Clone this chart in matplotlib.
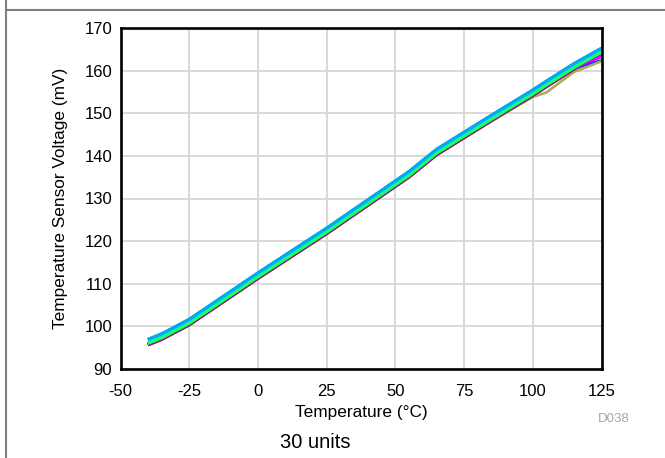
import numpy as np
import matplotlib
matplotlib.use("Agg")
import matplotlib.pyplot as plt
from matplotlib.lines import Line2D

plt.rcParams["font.family"] = ["Liberation Sans", "DejaVu Sans"]
plt.rcParams["axes.unicode_minus"] = False

# measurement temperatures (degC) and typical sensor voltage (mV)
temps = [-40, -35, -25, 0, 25, 55, 65, 85, 100, 105, 115, 125]
typical_mv = [96.3, 97.6, 101.0, 111.9, 122.4, 135.7, 140.9, 148.9, 154.8, 156.9, 161.0, 164.6]

# 30 units, in drawing order: offset from typical, colour, extra drop at 125 degC
unit_offsets = [-0.3, -0.35, -0.4, -0.45, -0.5, -0.3, -0.55, -0.4, -0.6, -0.35,
                -0.70, -0.72, -0.68, -0.66, -0.48, -0.47, -0.46,
                -0.26, -0.25, -0.25, -0.24, -0.24, -0.23, -0.23,
                0.45, 0.47,
                0.62, 0.66, 0.68, 0.70]
unit_colors = ["#FF0000", "#FF8000", "#000080", "#00A0A0", "#0033FF", "#404040",
               "#FF0000", "#FF8000", "#000080", "#00A0A0",
               "#804000", "#B0A860", "#404040", "#804000", "#8000FF", "#FF00FF", "#A000E0",
               "#00FF40", "#00FF40", "#40FF80", "#00FF40", "#00FF60", "#00FF40", "#20FF60",
               "#00E8F0", "#00E0FF",
               "#00B0F0", "#00A8F0", "#00B4F4", "#00ACEE"]
unit_drop_125 = [0, 0, 0, 0, -1.7, 0, 0, 0, 0, 0,
                 0, 0, 0, 0, -0.82, -0.63, 0,
                 0, 0, 0, 0, 0, 0, 0,
                 0, 0,
                 0, 0, 0, 0]
# the one unit that bends away above 100 degC
olive_unit = 11
olive_unit_mv = [95.6, 96.9, 100.3, 111.2, 121.7, 135.0, 140.2, 148.2, 153.8, 154.9, 159.7, 162.2]

W, H = 665, 458
fig = plt.figure(figsize=(W / 100, H / 100), dpi=100)
ax = fig.add_axes([120.5 / W, 1 - 369 / H, 481 / W, 341 / H])

for i in range(len(unit_offsets)):
    if i == olive_unit:
        v = np.array(olive_unit_mv)
    else:
        v = np.array(typical_mv) + unit_offsets[i]
        v[-1] += unit_drop_125[i]
    ax.plot(temps, v, color=unit_colors[i], lw=1.9, solid_capstyle="butt")

ax.set_xlim(-50, 125)
ax.set_ylim(90, 170)
ax.set_xticks(range(-50, 126, 25))
ax.set_yticks(range(90, 171, 10))
ax.grid(True, color="#D9D9D9", lw=1.4)
ax.set_axisbelow(True)
for s in ax.spines.values():
    s.set_linewidth(1.9)
    s.set_color("black")
ax.tick_params(axis="both", length=0, labelsize=12)
ax.tick_params(axis="x", pad=11)
ax.tick_params(axis="y", pad=6)

fig.text(361 / W, 1 - 417.5 / H, "Temperature (°C)", ha="center", va="baseline", fontsize=12.4)
fig.text(60.5 / W, 1 - 198.5 / H, "Temperature Sensor Voltage (mV)", ha="center", va="center",
         rotation=90, fontsize=12.4)
fig.text(630 / W, 1 - 419 / H, "D038", ha="right", va="center", fontsize=9.5, color="#A6A6A6")
fig.text(315 / W, 1 - 443 / H, "30 units", ha="center", va="center", fontsize=14.5)

# frame lines of the datasheet figure box
fig.add_artist(Line2D([6 / W, 6 / W], [0, 1], transform=fig.transFigure, color="#808080", lw=1.5))
fig.add_artist(Line2D([6 / W, 1], [1 - 10 / H, 1 - 10 / H], transform=fig.transFigure,
                      color="#808080", lw=1.5))

fig.savefig("out.png", dpi=100)
